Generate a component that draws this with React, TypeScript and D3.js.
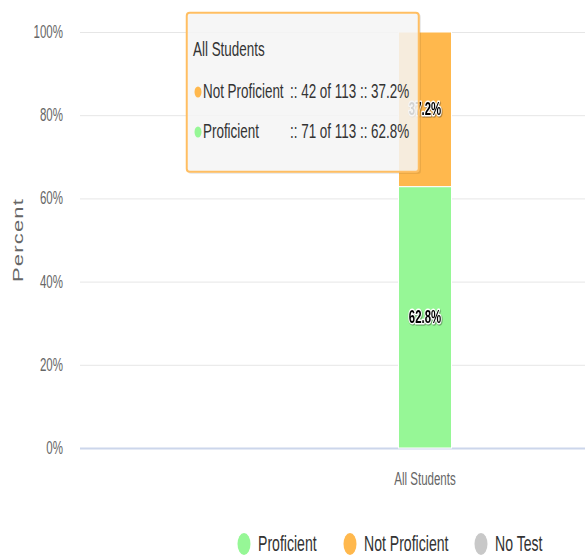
import React, { useEffect, useRef } from "react";
import * as d3 from "d3";

const categories = ["All Students"];
const seriesNames = ["Proficient", "Not Proficient", "No Test"];
const seriesColors = ["#96f796", "#ffb84d", "#c8c8c8"];
const proficientCounts = [71];
const notProficientCounts = [42];
const noTestCounts = [0];
const yTicks = [0, 20, 40, 60, 80, 100];

const SX = 0.64; // text is horizontally squashed in the reference
const FONT = "'Liberation Sans', Arial, sans-serif";

const App = () => {
  const ref = useRef<SVGSVGElement>(null);

  useEffect(() => {
    const width = 585;
    const svg = d3.select(ref.current);
    svg.selectAll("*").remove();

    const rows = categories.map((c, i) => {
      const total = proficientCounts[i] + notProficientCounts[i] + noTestCounts[i];
      return {
        category: c,
        total,
        "Proficient": (proficientCounts[i] / total) * 100,
        "Not Proficient": (notProficientCounts[i] / total) * 100,
        "No Test": (noTestCounts[i] / total) * 100,
      };
    });

    const y = d3.scaleLinear().domain([0, 100]).range([448, 32]);
    const x = d3.scaleBand().domain(categories).range([80, 770]).padding(0);
    const barW = 53;

    // grid
    svg
      .append("g")
      .selectAll("line")
      .data(yTicks)
      .enter()
      .append("line")
      .attr("x1", 80)
      .attr("x2", width)
      .attr("y1", (d) => y(d) + 0.5)
      .attr("y2", (d) => y(d) + 0.5)
      .attr("stroke", (d) => (d === 0 ? "#ccd6eb" : "#e6e6e6"))
      .attr("stroke-width", (d) => (d === 0 ? 2 : 1));

    // y tick labels
    svg
      .append("g")
      .selectAll("text")
      .data(yTicks)
      .enter()
      .append("text")
      .attr("transform", (d) => `translate(63,${y(d) + 6}) scale(${SX},1)`)
      .attr("text-anchor", "end")
      .attr("font-family", FONT)
      .attr("font-size", 18)
      .attr("fill", "#666")
      .text((d) => `${d}%`);

    // y title
    svg
      .append("text")
      .attr("transform", `translate(23,240) rotate(-90) scale(1,${SX})`)
      .attr("text-anchor", "middle")
      .attr("font-family", FONT)
      .attr("font-size", 22)
      .attr("letter-spacing", 1.2)
      .attr("fill", "#666")
      .text("Percent");

    // stacked bars
    const stack = d3.stack<any>().keys(seriesNames);
    const layers = stack(rows);
    svg
      .append("g")
      .selectAll("g")
      .data(layers)
      .enter()
      .append("g")
      .attr("fill", (d, i) => seriesColors[i])
      .selectAll("rect")
      .data((d) => d.filter((p) => p[1] - p[0] > 0))
      .enter()
      .append("rect")
      .attr("x", (d) => x(d.data.category)! + x.bandwidth() / 2 - barW / 2)
      .attr("width", barW)
      .attr("y", (d) => y(d[1]))
      .attr("height", (d) => y(d[0]) - y(d[1]))
      .attr("stroke", "#fff")
      .attr("stroke-width", 1);

    // data labels
    layers.forEach((layer) => {
      layer.forEach((p) => {
        const v = p[1] - p[0];
        if (v <= 0) return;
        const cx = x(p.data.category)! + x.bandwidth() / 2;
        const cy = y((p[0] + p[1]) / 2) + 6;
        svg
          .append("text")
          .attr("transform", `translate(${cx},${cy}) scale(0.6,1)`)
          .attr("text-anchor", "middle")
          .attr("font-family", FONT)
          .attr("font-size", 19)
          .attr("font-weight", "bold")
          .attr("fill", "#000")
          .attr("stroke", "#fff")
          .attr("stroke-width", 3)
          .attr("stroke-linejoin", "round")
          .attr("paint-order", "stroke")
          .style("filter", "drop-shadow(1px 1px 0.5px rgba(0,0,0,0.4))")
          .text(`${v.toFixed(1)}%`);
      });
    });

    // x label
    svg
      .append("g")
      .selectAll("text")
      .data(categories)
      .enter()
      .append("text")
      .attr("transform", (d) => `translate(${x(d)! + x.bandwidth() / 2},485) scale(${SX},1)`)
      .attr("text-anchor", "middle")
      .attr("font-family", FONT)
      .attr("font-size", 18)
      .attr("fill", "#666")
      .text((d) => d);

    // legend
    const legendX = [244, 350, 481];
    const lg = svg
      .append("g")
      .selectAll("g")
      .data(seriesNames)
      .enter()
      .append("g")
      .attr("transform", (d, i) => `translate(${legendX[i]},544)`);
    lg.append("ellipse").attr("rx", 6.5).attr("ry", 11).attr("fill", (d, i) => seriesColors[i]);
    lg.append("text")
      .attr("transform", `translate(14,7) scale(${SX},1)`)
      .attr("font-family", FONT)
      .attr("font-size", 22)
      .attr("fill", "#333")
      .text((d) => d);

    // tooltip
    const r = rows[0];
    const tip = svg.append("g").attr("transform", "translate(186,12)");
    tip
      .append("rect")
      .attr("x", 2)
      .attr("y", 2)
      .attr("width", 233)
      .attr("height", 160)
      .attr("rx", 3)
      .attr("fill", "rgba(0,0,0,0.08)");
    tip
      .append("rect")
      .attr("x", 0.75)
      .attr("y", 0.75)
      .attr("width", 232)
      .attr("height", 159)
      .attr("rx", 3)
      .attr("fill", "rgba(248,248,248,0.85)")
      .attr("stroke", "#ffbe62")
      .attr("stroke-width", 2);
    tip
      .append("text")
      .attr("transform", `translate(7,44) scale(${SX},1)`)
      .attr("font-family", FONT)
      .attr("font-size", 21)
      .attr("fill", "#333")
      .text(r.category);
    const tipRows = [
      { name: "Not Proficient", count: notProficientCounts[0], color: seriesColors[1] },
      { name: "Proficient", count: proficientCounts[0], color: seriesColors[0] },
    ];
    tipRows.forEach((row, i) => {
      const ty = 86 + i * 40;
      tip.append("ellipse").attr("cx", 12).attr("cy", ty - 6).attr("rx", 3.5).attr("ry", 5.5).attr("fill", row.color);
      tip
        .append("text")
        .attr("transform", `translate(17,${ty}) scale(${SX},1)`)
        .attr("font-family", FONT)
        .attr("font-size", 21)
        .attr("fill", "#333")
        .text(row.name);
      tip
        .append("text")
        .attr("transform", `translate(104,${ty}) scale(${SX},1)`)
        .attr("font-family", FONT)
        .attr("font-size", 21)
        .attr("fill", "#333")
        .text(`:: ${row.count} of ${r.total} :: ${((row.count / r.total) * 100).toFixed(1)}%`);
    });
  }, []);

  return (
    <svg
      ref={ref}
      width={585}
      height={559}
      style={{ position: "absolute", left: 0, top: 0, background: "#fff" }}
    />
  );
};

export default App;
